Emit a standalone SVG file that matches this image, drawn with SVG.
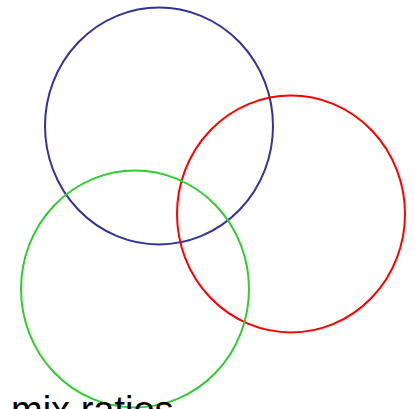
<svg xmlns="http://www.w3.org/2000/svg" width="415" height="409" viewBox="0 0 415 409">
<style>
.c{fill:none;stroke-width:2}
.t{font-family:"Liberation Sans",Arial,sans-serif;font-size:38px;fill:#000}
</style>
<rect width="415" height="409" fill="#fff"/>
<g id="blue"><ellipse class="c" cx="159" cy="126" rx="114" ry="118.5" stroke="#333399"/></g>
<g id="red"><ellipse class="c" cx="291" cy="214" rx="114" ry="118.5" stroke="#ff0000"/></g>
<g id="green"><ellipse class="c" cx="135" cy="289" rx="114" ry="118.5" stroke="#33cc33"/></g>
<text class="t" x="11" y="423">mix ratios</text>
</svg>
